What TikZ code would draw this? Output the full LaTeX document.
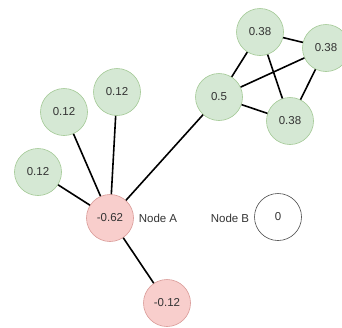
\documentclass[tikz,border=0pt]{standalone}
\usepackage{fontspec}
\setmainfont{Liberation Sans}
\definecolor{greenfill}{HTML}{D5E8D4}
\definecolor{greenline}{HTML}{A3C995}
\definecolor{redfill}{HTML}{F8CECC}
\definecolor{redline}{HTML}{D99A97}
\definecolor{txt}{HTML}{333333}
\tikzset{
  vtx/.style={circle, minimum size=47pt, inner sep=0pt, line width=0.6pt,
    font=\fontsize{11.5}{13}\selectfont, text=txt},
  posnode/.style={vtx, fill=greenfill, draw=greenline},
  negnode/.style={vtx, fill=redfill, draw=redline},
  zeronode/.style={vtx, fill=white, draw=black!70},
  lbl/.style={font=\fontsize{11.5}{13}\selectfont, text=txt, inner sep=0pt},
  link/.style={line width=1.6pt, black}
}
\begin{document}
\begin{tikzpicture}[x=1pt, y=-1pt]
\useasboundingbox (0,0) rectangle (342,327);
\clip (0,0) rectangle (342,327);
% nodes
\node[negnode]  (a)  at (110,218) {-0.62};
\node[negnode]  (an) at (167,303) {-0.12};
\node[posnode]  (l1) at (38,172)  {0.12};
\node[posnode]  (l2) at (64,112)  {0.12};
\node[posnode]  (l3) at (117,92)  {0.12};
\node[posnode]  (c)  at (219,97)  {0.5};
\node[posnode]  (t)  at (260,32)  {0.38};
\node[posnode]  (r)  at (326,48)  {0.38};
\node[posnode]  (b)  at (290,121) {0.38};
\node[zeronode] (nb) at (278,217) {0};
\node[lbl]  (la) at (158,218) {Node A};
\node[lbl]  (lb) at (230,218) {Node B};
% edges
\draw[link] (a) -- (l1);
\draw[link] (a) -- (l2);
\draw[link] (a) -- (l3);
\draw[link] (a) -- (c);
\draw[link] (a) -- (an);
\draw[link] (c) -- (t);
\draw[link] (c) -- (r);
\draw[link] (c) -- (b);
\draw[link] (t) -- (r);
\draw[link] (t) -- (b);
\draw[link] (r) -- (b);
\end{tikzpicture}
\end{document}
